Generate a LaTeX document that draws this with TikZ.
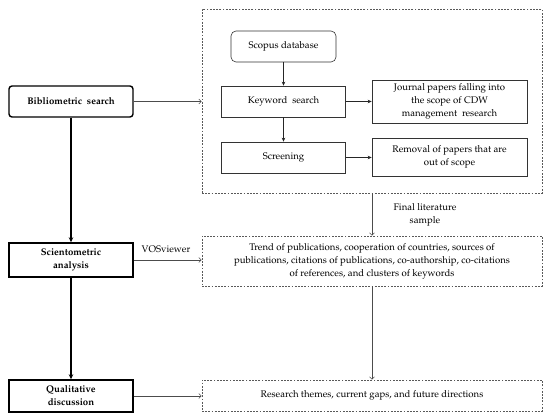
\documentclass[tikz,border=0pt]{standalone}
\usepackage[T1]{fontenc}
\usepackage{mathpazo}
\usetikzlibrary{arrows.meta}
\begin{document}
\begin{tikzpicture}[x=1pt,y=-1pt,
  every node/.style={font=\fontsize{9.6}{13}\selectfont, align=center, inner sep=0pt},
  mainbox/.style={draw=black, line width=1.4pt, minimum width=124pt},
  innerbox/.style={draw=black!80, line width=0.6pt},
  dbox/.style={draw=black!65, line width=0.6pt, dash pattern=on 1.8pt off 1.4pt, minimum width=340pt},
  flow/.style={draw=black!85, line width=0.6pt, -{Stealth[length=4pt,width=3.5pt]}},
  thickflow/.style={draw=black, line width=1.4pt, -{Stealth[length=5pt,width=4.5pt]}},
  openflow/.style={draw=black!70, line width=0.6pt, -{Straight Barb[length=2.5pt,width=5pt]}}
]
\useasboundingbox (0,0) rectangle (550,419);
% left column
\node[mainbox, rounded corners=3pt, minimum height=31pt, font=\fontsize{9.6}{13}\selectfont\bfseries] (bib) at (71,101.5) {Bibliometric\ \ search};
\node[mainbox, minimum height=34pt, font=\fontsize{9.6}{13}\selectfont\bfseries] (sci) at (71,260) {Scientometric\\analysis};
\node[mainbox, minimum height=32pt, font=\fontsize{9.6}{13}\selectfont\bfseries] (qual) at (71,396) {Qualitative\\discussion};
% dashed boxes
\node[dbox, minimum height=184pt] (big) at (372,101) {};
\node[dbox, minimum height=50pt] (trend) at (372,261) {Trend of publications, cooperation of countries, sources of\\publications, citations of publications, co-authorship, co-citations\\of references, and clusters of keywords};
\node[dbox, minimum height=31pt] (res) at (372,395.5) {Research themes, current gaps, and future directions};
% inner boxes
\node[innerbox, rounded corners=5pt, minimum width=105pt, minimum height=31pt] (scopus) at (283.5,46.5) {Scopus database};
\node[innerbox, minimum width=124pt, minimum height=31pt] (kw) at (283.5,101.5) {Keyword\ \ search};
\node[innerbox, minimum width=124pt, minimum height=31pt] (scr) at (283.5,157.5) {Screening};
\node[innerbox, minimum width=155pt, minimum height=43pt] (jp) at (449.5,101.5) {Journal papers falling into\\the scope of CDW\\management\ \ research};
\node[innerbox, minimum width=155pt, minimum height=38pt] (rem) at (449.5,157) {Removal of papers that are\\out of scope};
% labels
\node (vos) at (166,249) {VOSviewer};
\node (fls) at (425,215) {Final literature\\sample};
% connectors
\draw[flow] (scopus) -- (kw);
\draw[flow] (kw) -- (scr);
\draw[flow] (kw) -- (jp);
\draw[flow] (scr.east) -- (scr.east -| rem.west);
\draw[openflow] (bib) -- (big.west |- bib);
\draw[openflow] (sci.east) -- (sci.east -| trend.west);
\draw[openflow] (qual.east) -- (qual.east -| res.west);
\draw[openflow] (big) -- (trend);
\draw[openflow] (trend) -- (res);
\draw[thickflow] (bib) -- (sci);
\draw[thickflow] (sci) -- (qual);
\end{tikzpicture}
\end{document}
